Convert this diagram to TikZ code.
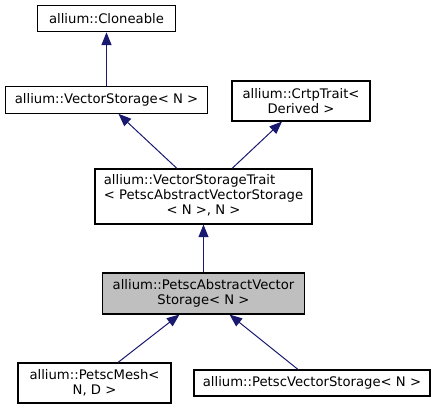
\documentclass[tikz,border=0pt]{standalone}
\usepackage{fontspec}
\setmainfont{DejaVu Sans}
\usetikzlibrary{arrows.meta}
\definecolor{edgeblue}{HTML}{191970}
\definecolor{boxgray}{HTML}{BFBFBF}
\begin{document}
\begin{tikzpicture}[x=0.75pt,y=-0.75pt,
  cls/.style={draw=black, line width=0.8pt, fill=white, inner sep=0pt, align=center,
    font=\fontsize{9.9}{11}\selectfont, minimum height=20pt},
  cur/.style={cls, fill=boxgray},
  edge/.style={draw=edgeblue, line width=0.75pt,
    -{Triangle[length=9.5pt,width=7.5pt]}, shorten >=0pt}]
\useasboundingbox (0,0) rectangle (437,409);
\node[cls, minimum width=103.5pt] (clone) at (106.5,18.5) {allium::Cloneable};
\node[cls, minimum width=151.5pt] (vs) at (106.5,100) {allium::VectorStorage< N >};
\node[cls, minimum width=103.5pt, minimum height=30pt] (crtp) at (301,101) {allium::CrtpTrait<\\Derived >};
\node[cls, minimum width=162.75pt, minimum height=41.25pt] (vst) at (203.5,196.5)
  {\renewcommand\arraystretch{1}\begin{tabular}{@{}l@{}}allium::VectorStorageTrait\\< PetscAbstractVectorStorage\\\multicolumn{1}{@{}c@{}}{< N >, N >}\end{tabular}};
\node[cur, minimum width=151.5pt, minimum height=30.75pt] (pavs) at (203.5,293.5) {allium::PetscAbstractVector\\Storage< N >};
\node[cls, minimum width=114.75pt, minimum height=30pt] (mesh) at (94.5,383) {allium::PetscMesh<\\N, D >};
\node[cls, minimum width=177pt, minimum height=19.5pt] (pvs) at (312,383) {allium::PetscVectorStorage< N >};
\draw[edge] (vs.north) -- (clone.south);
\draw[edge] ([xshift=-19.9pt]vst.north) -- ([xshift=9pt]vs.south);
\draw[edge] ([xshift=21.4pt]vst.north) -- ([xshift=-14.25pt]crtp.south);
\draw[edge] (pavs.north) -- (vst.south);
\draw[edge] ([xshift=17.6pt]mesh.north) -- ([xshift=-18pt]pavs.south);
\draw[edge] ([xshift=-10.5pt]pvs.north) -- ([xshift=19.5pt]pavs.south);
\end{tikzpicture}
\end{document}
